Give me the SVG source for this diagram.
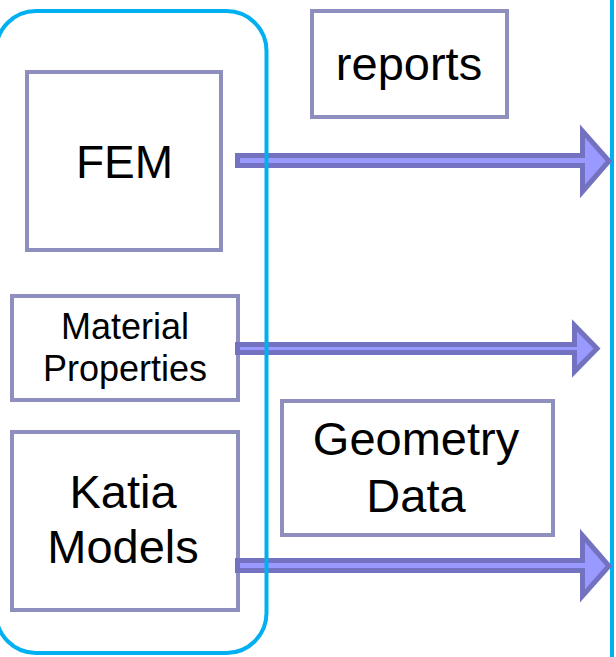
<svg xmlns="http://www.w3.org/2000/svg" width="616" height="657" viewBox="0 0 616 657">
<style>
.box{fill:#ffffff;stroke:#8f8fbf;stroke-width:4}
.lbl{font-family:"Liberation Sans",Arial,sans-serif;fill:#000000;text-anchor:middle}
.arr{fill:#9999ff;stroke:#7272c0;stroke-width:5;stroke-linejoin:miter;stroke-miterlimit:10}
.blue{fill:none;stroke:#00b0f0;stroke-width:4}
</style>
<rect width="616" height="657" fill="#ffffff"/>
<g id="right-line"><line class="blue" x1="612" y1="0" x2="612" y2="657"/></g>
<g id="fem"><rect class="box" x="27" y="72" width="194" height="178"/><text class="lbl" x="124.5" y="178" font-size="46">FEM</text></g>
<g id="material"><rect class="box" x="12" y="296" width="226" height="104"/><text class="lbl" font-size="36"><tspan x="125" y="339">Material</tspan><tspan x="125" y="381">Properties</tspan></text></g>
<g id="katia"><rect class="box" x="12" y="432" width="226" height="178"/><text class="lbl" font-size="47"><tspan x="123" y="508">Katia</tspan><tspan x="123" y="563">Models</tspan></text></g>
<g id="reports"><rect class="box" x="312" y="11" width="195" height="106"/><text class="lbl" x="409" y="80" font-size="47">reports</text></g>
<g id="geometry"><rect class="box" x="282" y="401" width="271" height="134"/><text class="lbl" font-size="47"><tspan x="416" y="455">Geometry</tspan><tspan x="416" y="512">Data</tspan></text></g>
<g id="connectors">
<polygon class="arr" points="237.5,155.5 582.5,155.5 582.5,131 609,161 582.5,191.5 582.5,165.5 237.5,165.5"/>
<polygon class="arr" points="237.5,344.5 574.5,344.5 574.5,325.5 597,348.5 574.5,371.5 574.5,352.5 237.5,352.5"/>
<polygon class="arr" points="237.5,560.5 582.5,560.5 582.5,535.5 609,566 582.5,596 582.5,570.5 237.5,570.5"/>
</g>
<g id="container"><rect class="blue" x="-4" y="11" width="270.5" height="642" rx="40" ry="40"/></g>
</svg>
